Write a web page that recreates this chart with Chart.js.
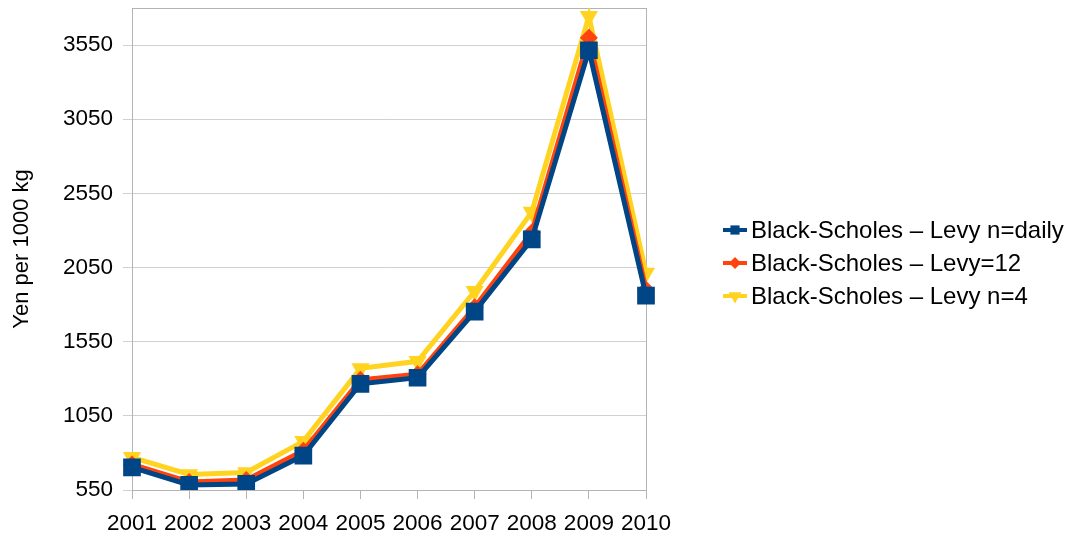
<!DOCTYPE html>
<html>
<head>
<meta charset="utf-8">
<title>Black-Scholes – Levy</title>
<script src="https://cdn.jsdelivr.net/npm/chart.js@4/dist/chart.umd.min.js"></script>
<style>
  html, body { margin: 0; padding: 0; background: #ffffff; }
  #wrap { width: 1073px; height: 540px; }
</style>
</head>
<body>
<div id="wrap"><canvas id="c" width="1073" height="540"></canvas></div>
<script>
// Years on the category axis
const years = ['2001', '2002', '2003', '2004', '2005', '2006', '2007', '2008', '2009', '2010'];

// Yen per 1000 kg for each method
const levyDaily = [702, 584, 591, 782, 1266, 1307, 1753, 2240, 3515, 1861];
const levy12    = [722, 604, 618, 814, 1293, 1330, 1782, 2287, 3600, 1901];
const levyN4    = [770, 655, 668, 878, 1370, 1418, 1890, 2425, 3744, 2013];

const seriesNames = [
  'Black-Scholes – Levy n=daily',
  'Black-Scholes – Levy=12',
  'Black-Scholes – Levy n=4'
];

// Value axis
const yMin = 550;
const yMax = 3800;
const yTickValues = [550, 1050, 1550, 2050, 2550, 3050, 3550];

const FONT = "'Liberation Sans', Arial, sans-serif";
const GRID = '#d0d0d0';
const FRAME = '#b3b3b3';

// Thin grey frame around the plotting area
const framePlugin = {
  id: 'frame',
  beforeDatasetsDraw(chart) {
    const a = chart.chartArea;
    const ctx = chart.ctx;
    ctx.save();
    ctx.strokeStyle = FRAME;
    ctx.lineWidth = 1;
    ctx.strokeRect(Math.round(a.left) + 0.5, Math.round(a.top) + 0.5,
                   Math.round(a.right - a.left), Math.round(a.bottom - a.top));
    ctx.restore();
  }
};

// Legend to the right: short line with the series marker, then the name
const sideLegend = {
  id: 'sideLegend',
  afterDraw(chart) {
    const ctx = chart.ctx;
    const a = chart.chartArea;
    const x0 = a.right + 77;
    const rowGap = 33;
    const y0 = 230;
    ctx.save();
    chart.data.datasets.forEach((ds, i) => {
      const y = y0 + i * rowGap;
      ctx.strokeStyle = ds.borderColor;
      ctx.lineWidth = 4;
      ctx.beginPath();
      ctx.moveTo(x0, y);
      ctx.lineTo(x0 + 24, y);
      ctx.stroke();
      ctx.fillStyle = ds.pointBackgroundColor;
      ctx.strokeStyle = ds.pointBackgroundColor;
      Chart.helpers.drawPoint(ctx, {
        pointStyle: ds.pointStyle,
        radius: ds.legendRadius,
        rotation: ds.pointRotation || 0,
        borderWidth: 0
      }, x0 + 12, y);
      ctx.fillStyle = '#000000';
      ctx.font = '24px ' + FONT;
      ctx.textBaseline = 'middle';
      ctx.textAlign = 'left';
      ctx.fillText(ds.label, x0 + 28, y + 1);
    });
    ctx.restore();
  }
};

const mk = (label, data, color, style, radius, legendRadius, rotation) => ({
  label: label,
  data: data,
  borderColor: color,
  backgroundColor: color,
  pointBackgroundColor: color,
  pointBorderColor: color,
  pointBorderWidth: 0,
  borderWidth: 5,
  pointStyle: style,
  pointRadius: radius,
  pointHoverRadius: radius,
  pointRotation: rotation || 0,
  legendRadius: legendRadius,
  tension: 0,
  fill: false
});

new Chart(document.getElementById('c'), {
  type: 'line',
  data: {
    labels: years,
    datasets: [
      mk(seriesNames[0], levyDaily, '#004586', 'rect', 12.5, 6.5),
      mk(seriesNames[1], levy12, '#ff420e', 'rectRot', 9, 6),
      mk(seriesNames[2], levyN4, '#ffd320', 'triangle', 10.5, 7.5, 180)
    ]
  },
  options: {
    responsive: false,
    devicePixelRatio: 1,
    animation: false,
    layout: {
      autoPadding: false,
      padding: { left: 0, top: 8, right: 427, bottom: 0 }
    },
    plugins: {
      legend: { display: false },
      tooltip: { enabled: false }
    },
    scales: {
      x: {
        type: 'category',
        offset: false,
        grid: {
          display: true,
          drawOnChartArea: false,
          drawTicks: true,
          tickLength: 9,
          color: FRAME,
          lineWidth: 1
        },
        border: { display: true, color: FRAME, width: 1 },
        ticks: {
          color: '#000000',
          font: { family: FONT, size: 22.5 },
          padding: 11,
          autoSkip: false,
          maxRotation: 0,
          minRotation: 0
        },
        afterFit(scale) {
          scale.height = 50;
          scale.paddingLeft = 0;
          scale.paddingRight = 0;
        }
      },
      y: {
        type: 'linear',
        min: yMin,
        max: yMax,
        grid: {
          color: GRID,
          lineWidth: 1,
          drawTicks: true,
          tickLength: 9
        },
        border: { display: true, color: FRAME, width: 1 },
        ticks: {
          color: '#000000',
          font: { family: FONT, size: 22.5 },
          padding: 10,
          stepSize: 500,
          callback: (v) => String(v)
        },
        afterBuildTicks(scale) {
          scale.ticks = yTickValues.map(v => ({ value: v }));
        },
        title: {
          display: true,
          text: 'Yen per 1000 kg',
          color: '#000000',
          font: { family: FONT, size: 22 },
          padding: { top: 9, bottom: 4 }
        },
        afterFit(scale) {
          scale.width = 132;
          scale.paddingTop = 0;
          scale.paddingBottom = 0;
        }
      }
    }
  },
  plugins: [framePlugin, sideLegend]
});
</script>
</body>
</html>
